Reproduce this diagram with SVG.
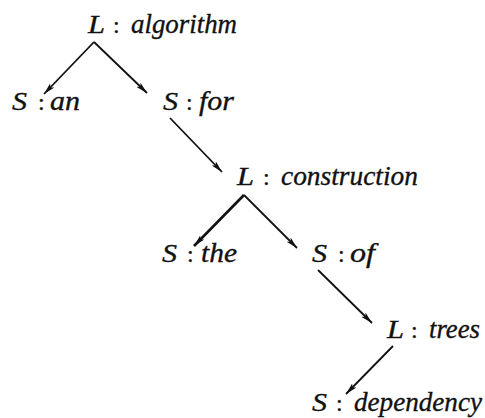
<svg xmlns="http://www.w3.org/2000/svg" width="485" height="418" viewBox="0 0 485 418">
<style>
.t{font-family:"Liberation Serif","DejaVu Serif","Times New Roman",serif;font-style:italic;font-size:26px;fill:#111;stroke:#111;stroke-width:0.35}
.w{font-size:27.5px}
.c{font-family:"Liberation Serif","DejaVu Serif","Times New Roman",serif;font-size:24px;fill:#111;stroke:#111;stroke-width:0.35}
.e{stroke:#111;stroke-width:1.8;fill:none;marker-end:url(#ah)}
</style>
<defs>
<marker id="ah" viewBox="0 0 12 6" refX="12" refY="3" markerWidth="12" markerHeight="6" markerUnits="userSpaceOnUse" orient="auto">
<path d="M0,0 L12,3 L0,6 L3,3 z" fill="#111"/>
</marker>
</defs>
<g id="connectors">
<path class="e" d="M94,42 L44,94"/>
<path class="e" d="M94,42 L147,93"/>
<path class="e" d="M170,118 L222,172"/>
<path class="e" d="M244,195 L194,246" style="stroke-width:2.6"/>
<path class="e" d="M244,195 L297,248"/>
<path class="e" d="M318,270 L372,323"/>
<path class="e" d="M393,346 L346,394"/>
</g>
<g id="n1"><text class="t" x="88" y="33" textLength="17" lengthAdjust="spacingAndGlyphs">L</text><text class="c" x="113" y="33">:</text><text class="t w" x="131" y="33" textLength="106" lengthAdjust="spacingAndGlyphs">algorithm</text></g>
<g id="n2"><text class="t" x="12" y="110" textLength="15" lengthAdjust="spacingAndGlyphs">S</text><text class="c" x="38" y="110">:</text><text class="t w" x="50" y="110" textLength="30" lengthAdjust="spacingAndGlyphs">an</text></g>
<g id="n3"><text class="t" x="163" y="110" textLength="15" lengthAdjust="spacingAndGlyphs">S</text><text class="c" x="186" y="110">:</text><text class="t w" x="199" y="110" textLength="35" lengthAdjust="spacingAndGlyphs">for</text></g>
<g id="n4"><text class="t" x="237" y="185" textLength="17" lengthAdjust="spacingAndGlyphs">L</text><text class="c" x="263" y="185">:</text><text class="t w" x="281" y="185" textLength="137" lengthAdjust="spacingAndGlyphs">construction</text></g>
<g id="n5"><text class="t" x="162" y="262" textLength="15" lengthAdjust="spacingAndGlyphs">S</text><text class="c" x="187" y="262">:</text><text class="t w" x="201" y="262" textLength="36" lengthAdjust="spacingAndGlyphs">the</text></g>
<g id="n6"><text class="t" x="312" y="262" textLength="15" lengthAdjust="spacingAndGlyphs">S</text><text class="c" x="338" y="262">:</text><text class="t w" x="350" y="262" textLength="25" lengthAdjust="spacingAndGlyphs">of</text></g>
<g id="n7"><text class="t" x="387" y="338" textLength="17" lengthAdjust="spacingAndGlyphs">L</text><text class="c" x="411" y="338">:</text><text class="t w" x="429" y="338" textLength="51" lengthAdjust="spacingAndGlyphs">trees</text></g>
<g id="n8"><text class="t" x="312" y="411" textLength="15" lengthAdjust="spacingAndGlyphs">S</text><text class="c" x="336" y="411">:</text><text class="t w" x="354" y="411" textLength="128" lengthAdjust="spacingAndGlyphs">dependency</text></g>
</svg>
